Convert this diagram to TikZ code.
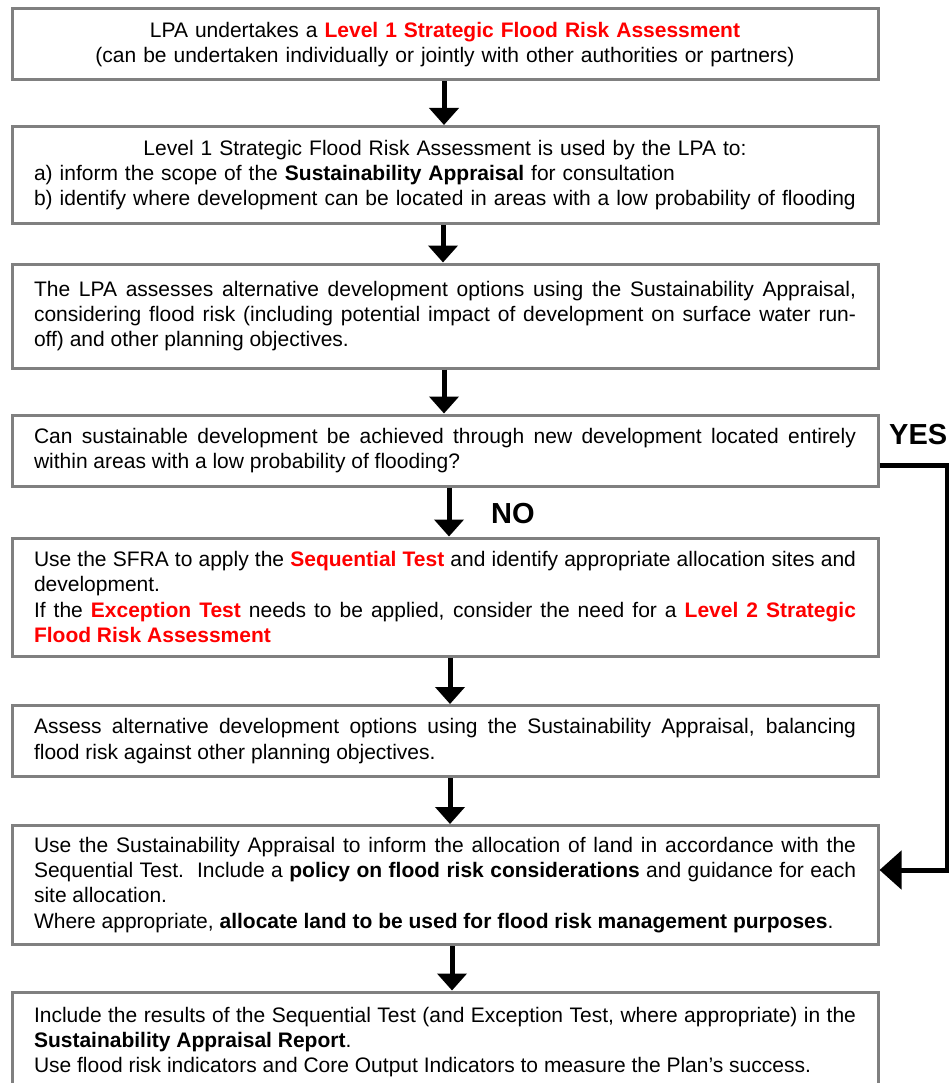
\documentclass[tikz,border=0pt]{standalone}
\usepackage{fontspec}
\setmainfont{Liberation Sans}
\usetikzlibrary{arrows.meta,calc}
\definecolor{fred}{RGB}{255,0,0}
\definecolor{boxgray}{RGB}{128,128,128}
\newcommand{\rt}[1]{\textcolor{fred}{\textbf{#1}}}
\hyphenpenalty=10000
\exhyphenpenalty=50
\begin{document}
\begin{tikzpicture}[x=1pt,y=-1pt,
 box/.style={draw=boxgray,line width=3pt,minimum width=866pt,text width=822pt,inner xsep=22pt,inner ysep=0pt,font=\fontsize{21}{25.2}\selectfont,align=justify,anchor=center},
 flow/.style={line width=5pt,-{Triangle[width=29pt,length=17pt]}},
 yesflow/.style={line width=5pt,-{Triangle[width=38pt,length=22pt]}},
 lbl/.style={font=\fontsize{29}{32}\selectfont\bfseries,inner sep=0pt,anchor=west}]
\useasboundingbox (0,0) rectangle (949,1083);
\clip (0,0) rectangle (949,1083);

\node[box,minimum height=71pt,align=center] (b1) at (445,44.5)
 {LPA undertakes a \rt{Level 1 Strategic Flood Risk Assessment}\\
  (can be undertaken individually or jointly with other authorities or partners)};

\node[box,minimum height=97pt,align=left] (b2) at (445,175)
 {\makebox[\linewidth][c]{Level 1 Strategic Flood Risk Assessment is used by the LPA to:}\\
  a) inform the scope of the \textbf{Sustainability Appraisal} for consultation\\
  \makebox[\linewidth][l]{b) identify where development can be located in areas with a low probability of flooding}};

\node[box,minimum height=104pt] (b3) at (445,316)
 {The LPA assesses alternative development options using the Sustainability Appraisal,\linebreak
  considering flood risk (including potential impact of development on surface water run-\linebreak
  off) and other planning objectives.};

\node[box,minimum height=71pt] (b4) at (445,450.5)
 {Can sustainable development be achieved through new development located entirely\linebreak
  within areas with a low probability of flooding?};

\node[box,minimum height=118pt] (b5) at (445,597)
 {Use the SFRA to apply the \rt{Sequential Test} and identify appropriate allocation sites and\linebreak
  development.\\
  If the \rt{Exception Test} needs to be applied, consider the need for a \rt{Level 2 Strategic}\linebreak
  \rt{Flood Risk Assessment}};

\node[box,minimum height=71pt] (b6) at (445,741)
 {Assess alternative development options using the Sustainability Appraisal, balancing\linebreak
  flood risk against other planning objectives.};

\node[box,minimum height=119pt] (b7) at (445,885)
 {Use the Sustainability Appraisal to inform the allocation of land in accordance with the\linebreak
  Sequential Test.\ \ Include a \textbf{policy on flood risk considerations} and guidance for each\linebreak
  site allocation.\\
  Where appropriate, \textbf{allocate land to be used for flood risk management purposes}.};

\node[box,minimum height=100pt] (b8) at (445,1042)
 {Include the results of the Sequential Test (and Exception Test, where appropriate) in the\linebreak
  \textbf{Sustainability Appraisal Report}.\\
  Use flood risk indicators and Core Output Indicators to measure the Plan’s success.};

\draw[flow] (444,0 |- b1.south) -- (444,0 |- b2.north);
\draw[flow] (443,0 |- b2.south) -- (443,0 |- b3.north);
\draw[flow] (444,0 |- b3.south) -- (444,0 |- b4.north);
\draw[flow] (449,0 |- b4.south) -- (449,0 |- b5.north);
\draw[flow] (450,0 |- b5.south) -- (450,0 |- b6.north);
\draw[flow] (450,0 |- b6.south) -- (450,0 |- b7.north);
\draw[flow] (452,0 |- b7.south) -- (452,0 |- b8.north);

\draw[yesflow] (b4.east |- 0,465) -- (947,465) -- (947,870) -- (b7.east |- 0,870);

\node[lbl] (yes) at (889,434.5) {YES};
\node[lbl] (no) at (491,514) {NO};
\end{tikzpicture}
\end{document}
